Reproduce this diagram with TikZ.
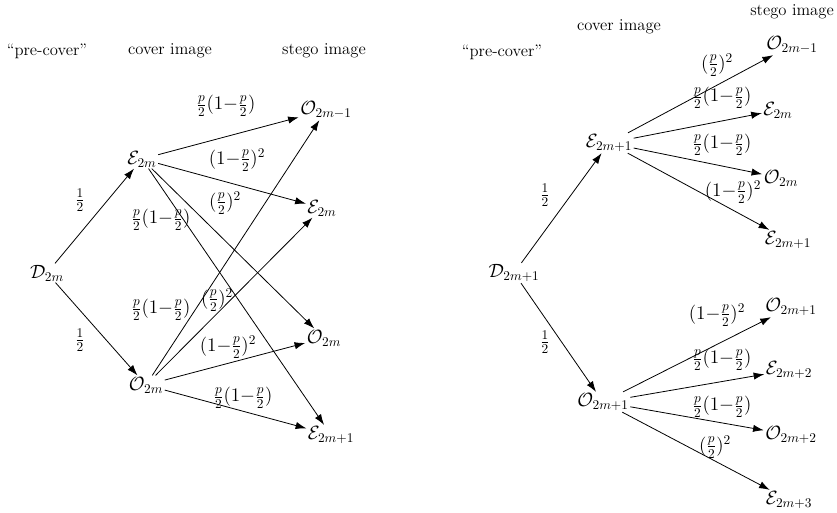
\documentclass[tikz,border=0pt]{standalone}
\usepackage{amssymb,amsmath}
\usetikzlibrary{arrows.meta,positioning}
\tikzstyle{state}=[font=\Large,inner sep=1pt]
\tikzstyle{prob}=[font=\Large,inner sep=0pt]
\tikzstyle{head}=[font=\fontsize{12.5pt}{15pt}\selectfont]
\tikzstyle{trans}=[semithick,-{Latex[length=8pt,width=5.5pt]}]
\newcommand{\pq}{\frac{p}{2}(1{-}\frac{p}{2})}
\newcommand{\qq}{(1{-}\frac{p}{2})^2}
\newcommand{\pp}{(\frac{p}{2})^2}

\begin{document}
\begin{tikzpicture}[x=0.75pt,y=-0.75pt]
\useasboundingbox (0,0) rectangle (837,512);
% even pixel value
\node[head] (preL)   at (47,51)  {``pre-cover''};
\node[head] (coverL) at (170,51) {cover image};
\node[head] (stegoL) at (324,51) {stego image};
\node[state] (D0) at (47,273)  {$\mathcal{D}_{2m}$};
\node[state] (E0) at (142,159) {$\mathcal{E}_{2m}$};
\node[state] (O0) at (146,385) {$\mathcal{O}_{2m}$};
\node[state] (a1) at (326,110) {$\mathcal{O}_{2m-1}$};
\node[state] (a2) at (322,208) {$\mathcal{E}_{2m}$};
\node[state] (a3) at (324,338) {$\mathcal{O}_{2m}$};
\node[state] (a4) at (331,435) {$\mathcal{E}_{2m+1}$};
\draw[trans] (D0) -- (E0);
\draw[trans] (D0) -- (O0);
\foreach \to in {a1, a2, a3, a4}{
  \draw[trans] (E0) -- (\to);
  \draw[trans] (O0) -- (\to);
}
\node[prob] at (80,200) {$\frac12$};
\node[prob] at (80,340) {$\frac12$};
\node[prob] at (226,106) {$\pq$};
\node[prob] at (237,160) {$\qq$};
\node[prob] at (225,203) {$\pp$};
\node[prob] at (161,220) {$\pq$};
\node[prob] at (161,310) {$\pq$};
\node[prob] at (217,300) {$\pp$};
\node[prob] at (228,347) {$\qq$};
\node[prob] at (243,398) {$\pq$};
% odd pixel value
\node[head] (preR)   at (502,52)  {``pre-cover''};
\node[head] (coverR) at (619,27) {cover image};
\node[head] (stegoR) at (792,12) {stego image};
\node[state] (D1) at (514,273) {$\mathcal{D}_{2m+1}$};
\node[state] (E1) at (609,143) {$\mathcal{E}_{2m+1}$};
\node[state] (O1) at (603,402) {$\mathcal{O}_{2m+1}$};
\node[state] (b1) at (792,45)  {$\mathcal{O}_{2m-1}$};
\node[state] (b2) at (778,110) {$\mathcal{E}_{2m}$};
\node[state] (b3) at (781,178) {$\mathcal{O}_{2m}$};
\node[state] (b4) at (788,240) {$\mathcal{E}_{2m+1}$};
\node[state] (c1) at (791,307) {$\mathcal{O}_{2m+1}$};
\node[state] (c2) at (789,370) {$\mathcal{E}_{2m+2}$};
\node[state] (c3) at (791,435) {$\mathcal{O}_{2m+2}$};
\node[state] (c4) at (789,500) {$\mathcal{E}_{2m+3}$};
\draw[trans] (D1) -- (E1);
\draw[trans] (D1) -- (O1);
\foreach \to in {b1, b2, b3, b4}
  \draw[trans] (E1) -- (\to);
\foreach \to in {c1, c2, c3, c4}
  \draw[trans] (O1) -- (\to);
\node[prob] at (545,195) {$\frac12$};
\node[prob] at (545,342) {$\frac12$};
\node[prob] at (717,65)  {$\pp$};
\node[prob] at (722,98)  {$\pq$};
\node[prob] at (722,145) {$\pq$};
\node[prob] at (733,192) {$\qq$};
\node[prob] at (717,315) {$\qq$};
\node[prob] at (722,360) {$\pq$};
\node[prob] at (722,407) {$\pq$};
\node[prob] at (715,447) {$\pp$};
\end{tikzpicture}
\end{document}
